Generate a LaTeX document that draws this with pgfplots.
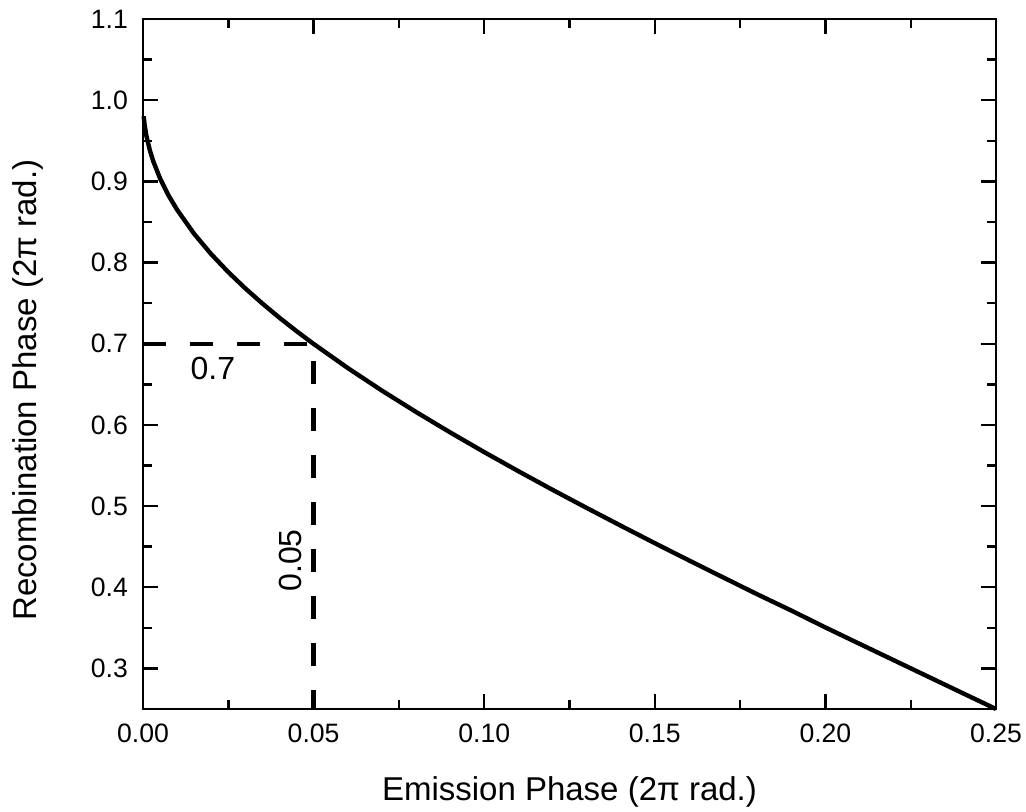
\documentclass[border=0pt]{standalone}
\usepackage{fontspec}
\setmainfont{Liberation Sans}
\usepackage{pgfplots}
\pgfplotsset{compat=1.18}
\begin{document}
\begin{tikzpicture}
\begin{axis}[
  scale only axis,
  width=426.5pt, height=345pt,
  xmin=0, xmax=0.25, ymin=0.25, ymax=1.1,
  xtick={0,0.05,0.10,0.15,0.20,0.25},
  ytick={0.3,0.4,0.5,0.6,0.7,0.8,0.9,1.0,1.1},
  minor x tick num=1, minor y tick num=1,
  tick align=inside,
  tick pos=both,
  major tick length=7.5pt, minor tick length=4.5pt,
  every tick/.style={black, line width=1.2pt},
  axis line style={black, line width=1.2pt},
  /pgf/number format/assume math mode=true,
  tick label style={font=\fontsize{13.3}{15}\selectfont},
  xticklabel style={/pgf/number format/.cd, fixed, fixed zerofill, precision=2, /tikz/.cd, yshift=-4pt},
  yticklabel style={/pgf/number format/.cd, fixed, fixed zerofill, precision=1, /tikz/.cd, xshift=-4pt},
  xlabel={Emission Phase (2π rad.)},
  ylabel={Recombination Phase (2π rad.)},
  label style={font=\fontsize{16.5}{20}\selectfont},
  xlabel style={at={(axis description cs:0.5,0)}, anchor=base, yshift=-45.5pt},
  ylabel style={at={(axis description cs:-0.1348,0.462)}, anchor=center},
  clip=false,
]
\coordinate (O) at (rel axis cs:0,0);
\addplot[black, line width=2.2pt] coordinates {
(0.0002,0.9802) (0.0005,0.9688) (0.001,0.9561) (0.002,0.9384) (0.003,0.9249)
(0.005,0.9036) (0.0075,0.8825) (0.01,0.8650) (0.015,0.8353) (0.02,0.8103)
(0.025,0.7882) (0.03,0.7681) (0.035,0.7495) (0.04,0.7320) (0.045,0.7155)
(0.05,0.6998) (0.06,0.6701) (0.07,0.6423) (0.08,0.6160) (0.09,0.5908)
(0.10,0.5665) (0.11,0.5430) (0.12,0.5201) (0.13,0.4978) (0.14,0.4759)
(0.15,0.4543) (0.16,0.4331) (0.17,0.4122) (0.18,0.3914) (0.19,0.3713)
(0.20,0.3505) (0.21,0.3303) (0.22,0.3102) (0.23,0.2901) (0.24,0.2700)
(0.245,0.2600) (0.25,0.25)
};
\addplot[black, line width=2.2pt, dash pattern=on 11.5pt off 12pt] coordinates {
(0,0.7) (0.05,0.7) (0.05,0.25)
};
\node[font=\fontsize{16}{18}\selectfont] at (axis cs:0.0205,0.670) {0.7};
\node[font=\fontsize{16}{18}\selectfont, rotate=90] at (axis cs:0.0431,0.433) {0.05};
\end{axis}
\pgfresetboundingbox
\path[use as bounding box] ([xshift=-71.5pt, yshift=-51pt]O) rectangle ([xshift=441.5pt, yshift=354.5pt]O);
\end{tikzpicture}
\end{document}
